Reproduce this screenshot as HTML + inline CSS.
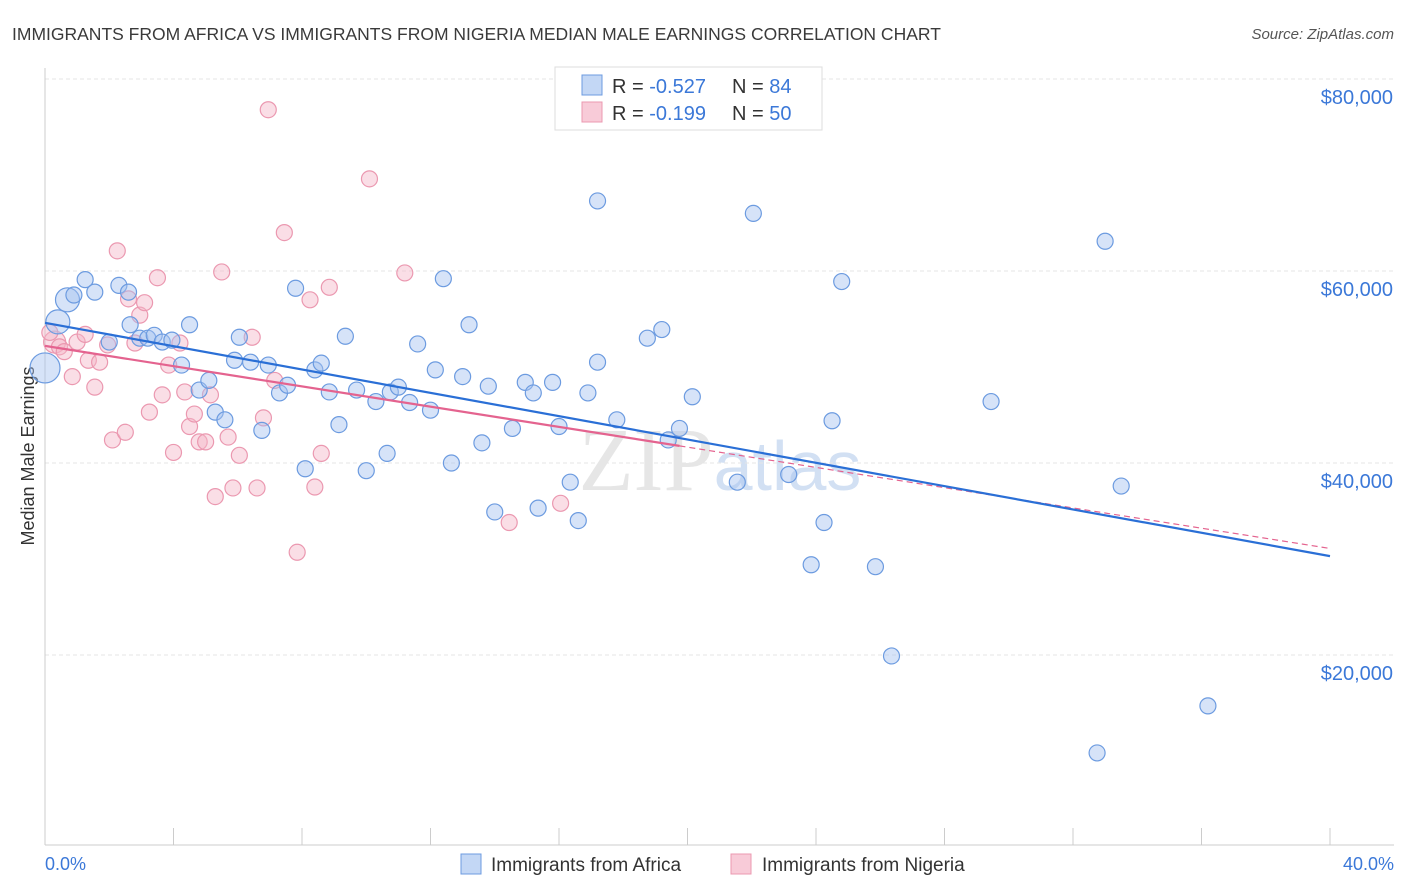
<!DOCTYPE html>
<html><head><meta charset="utf-8"><style>
body{margin:0;background:#fff;font-family:"Liberation Sans",sans-serif;}
svg{display:block}
</style></head><body>
<svg id="chart" width="1406" height="892">
<text x="12" y="40" font-size="17.5" fill="#3a3a3a">IMMIGRANTS FROM AFRICA VS IMMIGRANTS FROM NIGERIA MEDIAN MALE EARNINGS CORRELATION CHART</text>
<text x="1394" y="39" font-size="15" fill="#555" font-style="italic" text-anchor="end">Source: ZipAtlas.com</text>
<text transform="translate(34,456) rotate(-90)" font-size="18" fill="#333" text-anchor="middle">Median Male Earnings</text>
<text x="720" y="490" font-size="90" fill="#c8c8c8" opacity="0.45" text-anchor="middle" font-family="Liberation Serif,serif">ZIP<tspan fill="#9dbbe6" font-family="Liberation Sans,sans-serif" font-size="70">atlas</tspan></text>
<g id="grid"></g><g id="marks"></g>
<text x="45" y="870" font-size="18" fill="#3b78d8">0.0%</text>
<text x="1394" y="870" font-size="18" fill="#3b78d8" text-anchor="end">40.0%</text>
<g>
<rect x="461" y="854" width="20" height="20" fill="#c3d7f5" stroke="#6c9be0"/>
<text x="491" y="871" font-size="19" fill="#333">Immigrants from Africa</text>
<rect x="731" y="854" width="20" height="20" fill="#f8cbd8" stroke="#eb98b0"/>
<text x="762" y="871" font-size="19" fill="#333">Immigrants from Nigeria</text>
</g>
<g>
<rect x="555" y="67" width="267" height="63" fill="#fff" stroke="#ddd"/>
<rect x="582" y="75" width="20" height="20" fill="#c3d7f5" stroke="#6c9be0"/>
<rect x="582" y="102" width="20" height="20" fill="#f8cbd8" stroke="#eb98b0"/>
<text x="612" y="93" font-size="20" fill="#333">R = <tspan fill="#3b78d8">-0.527</tspan><tspan x="732">N = </tspan><tspan fill="#3b78d8">84</tspan></text>
<text x="612" y="120" font-size="20" fill="#333">R = <tspan fill="#3b78d8"> -0.199</tspan><tspan x="732">N = </tspan><tspan fill="#3b78d8">50</tspan></text>
</g>
</svg>
<script>
const yTicks=[20000,40000,60000,80000];
const yTickLabels=["$20,000","$40,000","$60,000","$80,000"];
const africaX=[0,0.4,0.7,0.9,1.25,1.55,2.0,2.3,2.65,2.6,2.95,3.2,3.4,3.65,3.95,4.25,4.5,4.8,5.1,5.3,5.6,5.9,6.05,6.4,6.75,6.95,7.3,7.55,7.8,8.1,8.4,8.6,8.85,9.15,9.35,9.7,10.0,10.3,10.75,11.0,10.65,11.35,11.6,12.0,12.15,12.4,12.65,13.0,13.2,13.6,13.8,14.0,14.55,14.95,15.2,15.35,15.8,16.0,16.35,16.6,16.9,17.2,17.2,17.8,18.75,19.2,19.4,19.75,20.15,21.55,22.05,23.15,23.85,24.25,24.5,24.8,25.85,26.35,29.45,33.0,33.5,36.2,32.75];
const africaY=[49.9,54.7,57.0,57.5,59.1,57.8,52.6,58.5,54.4,57.8,53.0,53.0,53.3,52.6,52.8,50.2,54.4,47.6,48.6,45.3,44.5,50.7,53.1,50.5,43.4,50.2,47.3,48.1,58.2,39.4,49.7,50.4,47.4,44.0,53.2,47.6,39.2,46.4,47.4,47.9,41.0,46.3,52.4,45.5,49.7,59.2,40.0,49.0,54.4,42.1,48.0,34.9,43.6,48.4,47.3,35.3,48.4,43.8,38.0,34.0,47.3,50.5,67.3,44.5,53.0,53.9,42.4,43.6,46.9,38.0,66.0,38.8,29.4,33.8,44.4,58.9,29.2,19.9,46.4,63.1,37.6,14.7,9.8];
const africaBig=[0,1,2];
const nigeriaX=[0.3,0.15,0.45,0.6,0.85,1.0,1.25,1.35,1.55,1.7,1.95,2.1,2.25,2.5,2.6,2.8,2.95,3.1,3.25,3.5,3.65,3.85,4.0,4.2,4.35,4.5,4.65,4.8,5.0,5.15,5.3,5.5,5.7,5.85,6.05,6.45,6.6,6.8,6.95,7.15,7.45,7.85,8.25,8.4,8.6,8.85,10.1,11.2,14.45,16.05];
const nigeriaY=[52.6,53.6,52.1,51.6,49.0,52.6,53.4,50.7,47.9,50.5,52.3,42.4,62.1,43.2,57.1,52.5,55.4,56.7,45.3,59.3,47.1,50.2,41.1,52.5,47.4,43.8,45.1,42.2,42.2,47.1,36.5,59.9,42.7,37.4,40.8,53.1,37.4,44.7,76.8,48.6,64.0,30.7,57.0,37.5,41.0,58.3,69.6,59.8,33.8,35.8];
const africaTrend=[54.6,30.3];
const nigeriaTrend=[52.2,31.1];
const nigeriaSolidEnd=19.75;
const X=v=>45+v*(1285/40), Y=k=>847-k*1000*192/20000;
const NS="http://www.w3.org/2000/svg";
const grid=document.getElementById('grid'), marks=document.getElementById('marks');
function mk(tag,attrs,parent){const e=document.createElementNS(NS,tag);for(const k in attrs)e.setAttribute(k,attrs[k]);parent.appendChild(e);return e;}
yTicks.forEach((t,i)=>{
 const l=mk('line',{x1:45,x2:1394,y1:Y(t/1000),y2:Y(t/1000),stroke:'#e6e6e6','stroke-dasharray':'4,3'},grid);
 
 
 const tx=mk('text',{x:1393,y:Y(t/1000)+25,'font-size':20,fill:'#3b78d8','text-anchor':'end'},grid);
 tx.textContent=yTickLabels[i];
 
 
});
const ax=mk('line',{x1:45,x2:45,y1:68,y2:845,stroke:'#ccc'},grid);


const bx=mk('line',{x1:45,x2:1394,y1:845,y2:845,stroke:'#ccc'},grid);


for(let i=0;i<=10;i++){
 const t=mk('line',{x1:X(i*4),x2:X(i*4),y1:828,y2:845,stroke:'#ccc'},grid);
 
 
}
nigeriaX.forEach((x,i)=>{
 const c=mk('circle',{cx:X(x),cy:Y(nigeriaY[i]),r:i==0?11:8,fill:'rgba(244,182,200,0.45)',stroke:'#eb98b0','stroke-width':1.2},marks);
 
 
});
africaX.forEach((x,i)=>{
 const big=africaBig.includes(i);
 const c=mk('circle',{cx:X(x),cy:Y(africaY[i]),r:big?(i==0?15:12):8,fill:'rgba(164,194,240,0.45)',stroke:'#6c9be0','stroke-width':1.2},marks);
 
 
});
const pf=x=>nigeriaTrend[0]+(nigeriaTrend[1]-nigeriaTrend[0])*x/40;
const pd=mk('line',{x1:X(nigeriaSolidEnd),y1:Y(pf(nigeriaSolidEnd)),x2:X(40),y2:Y(pf(40)),stroke:'#e4638f','stroke-width':1.2,'stroke-dasharray':'6,4'},marks);


const bl=mk('line',{x1:X(0),y1:Y(africaTrend[0]),x2:X(40),y2:Y(africaTrend[1]),stroke:'#2a6fd6','stroke-width':2.2},marks);


const pl=mk('line',{x1:X(0),y1:Y(pf(0)),x2:X(nigeriaSolidEnd),y2:Y(pf(nigeriaSolidEnd)),stroke:'#e4638f','stroke-width':2.2},marks);


</script>
</body></html>
